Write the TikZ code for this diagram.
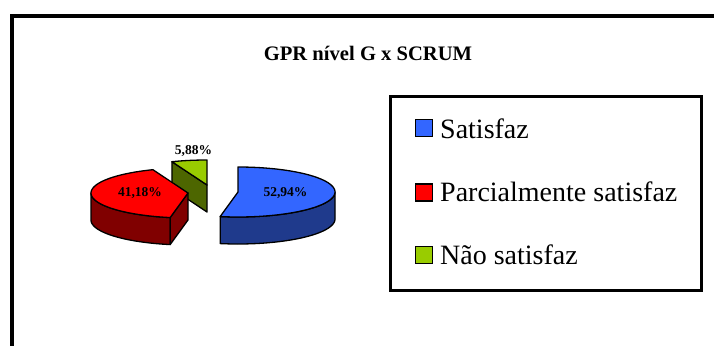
\documentclass[tikz,border=0pt]{standalone}
\usepackage{fontspec}
\setmainfont{Liberation Serif}

\definecolor{satTop}{HTML}{3366FF}
\definecolor{satSide}{HTML}{1F3A8C}
\definecolor{parTop}{HTML}{FF0000}
\definecolor{parSide}{HTML}{800000}
\definecolor{naoTop}{HTML}{99CC00}
\definecolor{naoSide}{HTML}{4D6600}

% pie geometry: half-axes of the ellipse and thickness of the disc
\newcommand{\prx}{97}
\newcommand{\pry}{25}
\newcommand{\pdepth}{27}

\tikzset{
  slice/.style={draw=black, line width=1.3pt, line join=round},
  pctlabel/.style={font=\bfseries\fontsize{13.5}{16}\selectfont, inner sep=0pt},
  legendkey/.style={draw=black, line width=1.3pt, minimum size=17pt, inner sep=0pt},
  legendtext/.style={font=\fontsize{28}{32}\selectfont, inner sep=0pt, anchor=base west},
}

\begin{document}
\begin{tikzpicture}[x=1pt, y=-1pt]
\useasboundingbox (0,0) rectangle (714,345);
\clip (0,0) rectangle (714,345);

% outer chart frame
\draw[line width=4pt] (12,352) -- (12,16) -- (722,16);

% title
\node[font=\bfseries\fontsize{20.6}{24}\selectfont, inner sep=0pt] (title) at (368,53) {GPR nível G x SCRUM};

% --- Não satisfaz (5,88%), apex (207,185) ---
\fill[naoSide] (207,185) -- ({207+\prx*sin(338.8)},{185-\pry*cos(338.8)})
  -- ({207+\prx*sin(338.8)},{185+\pdepth-\pry*cos(338.8)}) -- (207,{185+\pdepth}) -- cycle;
\draw[slice] (207,185) -- ({207+\prx*sin(338.8)},{185-\pry*cos(338.8)})
  -- ({207+\prx*sin(338.8)},{185+\pdepth-\pry*cos(338.8)}) -- (207,{185+\pdepth}) -- cycle;
\filldraw[slice, fill=naoTop] (207,185)
  -- plot[domain=338.8:360, samples=12] ({207+\prx*sin(\x)},{185-\pry*cos(\x)}) -- cycle;

% --- Parcialmente satisfaz (41,18%), apex (188,193) ---
\filldraw[slice, fill=parSide]
  plot[domain=190.6:270, samples=30] ({188+\prx*sin(\x)},{193-\pry*cos(\x)})
  -- plot[domain=270:190.6, samples=30] ({188+\prx*sin(\x)},{193+\pdepth-\pry*cos(\x)}) -- cycle;
\filldraw[slice, fill=parSide] (188,193) -- ({188+\prx*sin(190.6)},{193-\pry*cos(190.6)})
  -- ({188+\prx*sin(190.6)},{193+\pdepth-\pry*cos(190.6)}) -- (188,{193+\pdepth}) -- cycle;
\filldraw[slice, fill=parTop] (188,193)
  -- plot[domain=190.6:338.8, samples=50] ({188+\prx*sin(\x)},{193-\pry*cos(\x)}) -- cycle;

% --- Satisfaz (52,94%), apex (238,192) ---
\filldraw[slice, fill=satSide]
  plot[domain=90:190.6, samples=40] ({238+\prx*sin(\x)},{192-\pry*cos(\x)})
  -- plot[domain=190.6:90, samples=40] ({238+\prx*sin(\x)},{192+\pdepth-\pry*cos(\x)}) -- cycle;
\filldraw[slice, fill=satTop] (238,192)
  -- plot[domain=0:190.6, samples=60] ({238+\prx*sin(\x)},{192-\pry*cos(\x)}) -- cycle;

% percentage labels
\node[pctlabel] (pSat) at (285.5,193) {52,94\%};
\node[pctlabel] (pPar) at (140,193) {41,18\%};
\node[pctlabel] (pNao) at (193.5,151.5) {5,88\%};

% legend
\node[draw=black, line width=2.5pt, minimum width=311pt, minimum height=194pt, inner sep=0pt] (legend) at (546,193.5) {};
\node[legendkey, fill=satTop] (kSat) at (424,128) {};
\node[legendkey, fill=parTop] (kPar) at (424,192.5) {};
\node[legendkey, fill=naoTop] (kNao) at (424,255) {};
\node[legendtext] (tSat) at (440,138) {Satisfaz};
\node[legendtext] (tPar) at (440,201.5) {Parcialmente satisfaz};
\node[legendtext] (tNao) at (440,264) {Não satisfaz};
\end{tikzpicture}
\end{document}
